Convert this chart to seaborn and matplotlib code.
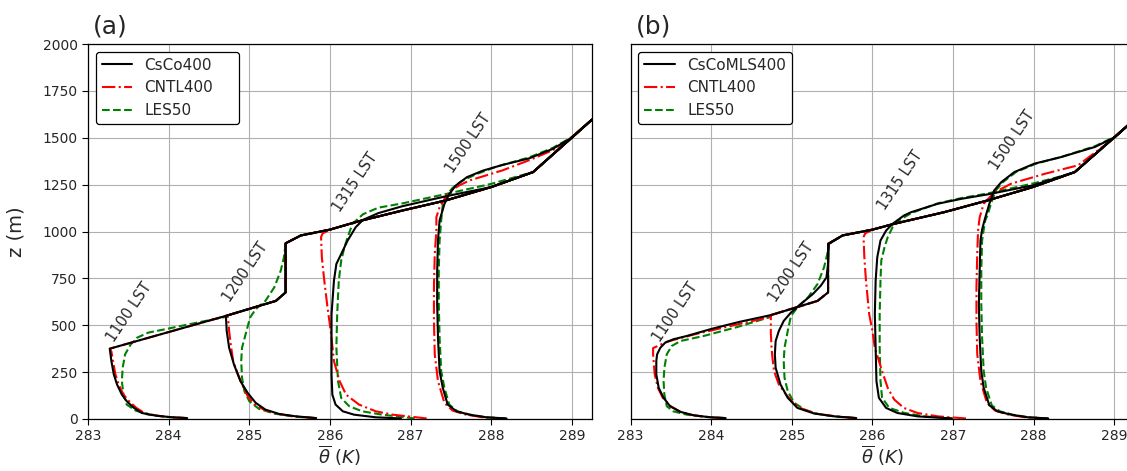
import numpy as np
import pandas as pd
import matplotlib
matplotlib.use("Agg")
import matplotlib.pyplot as plt
from matplotlib.lines import Line2D
import seaborn as sns

# ---------------------------------------------------------------------------
# Mean potential temperature profiles (theta in K, height z in m)
# ---------------------------------------------------------------------------
times = ["1100 LST", "1200 LST", "1315 LST", "1500 LST"]
models_a = ["CsCo400", "CNTL400", "LES50"]
models_b = ["CsCoMLS400", "CNTL400", "LES50"]

# Free-atmosphere part shared by the profiles above the mixed layer
fa_a_theta = [283.27, 284.71, 285.33, 285.45, 285.45, 285.64, 286.0, 286.36, 286.9, 287.44, 288.0, 288.52, 289.25]
fa_a_z = [375, 550, 630, 675, 937, 979, 1010, 1055, 1112, 1166, 1237, 1317, 1597]

fa_b_theta = [284.74, 285.0, 285.32, 285.45, 285.45, 285.63, 286.0, 286.27, 286.89, 287.43, 287.99, 288.51, 289.25]
fa_b_z = [554, 588, 630, 675, 934, 979, 1010, 1041, 1103, 1166, 1237, 1317, 1597]

# ---- panel (a) ----
a_1100_csco_theta = [284.23, 284.04, 283.84, 283.67, 283.57, 283.48, 283.42, 283.36, 283.32, 283.29, 283.27]
a_1100_csco_z = [5, 9, 18, 32, 59, 95, 130, 184, 238, 309, 375]
a_1100_cntl_theta = [284.22, 284.03, 283.85, 283.7, 283.6, 283.51, 283.44, 283.38, 283.34, 283.31, 283.29, 283.27]
a_1100_cntl_z = [5, 9, 18, 32, 59, 95, 130, 184, 238, 309, 360, 375]
a_1100_les_theta = [284.21, 283.96, 283.75, 283.59, 283.48, 283.44, 283.42, 283.43, 283.46, 283.53, 283.61, 283.75, 283.96, 284.25, 284.71]
a_1100_les_z = [5, 12, 23, 45, 77, 130, 202, 273, 345, 398, 434, 461, 479, 505, 545]

a_1200_csco_theta = [285.83, 285.58, 285.37, 285.2, 285.08, 284.98, 284.89, 284.81, 284.75, 284.72, 284.71]
a_1200_csco_z = [5, 14, 27, 50, 86, 139, 202, 291, 380, 470, 550]
a_1200_cntl_theta = [285.81, 285.56, 285.35, 285.18, 285.06, 284.98, 284.92, 284.86, 284.8, 284.77, 284.75, 284.74, 284.73]
a_1200_cntl_z = [5, 14, 27, 50, 80, 122, 175, 238, 309, 398, 470, 523, 552]
a_1200_les_theta = [285.81, 285.54, 285.31, 285.12, 285.0, 284.94, 284.91, 284.9, 284.91, 284.96, 285.01, 285.08, 285.2, 285.31, 285.39, 285.43, 285.45]
a_1200_les_z = [5, 14, 29, 54, 95, 148, 220, 309, 380, 461, 541, 586, 630, 702, 791, 863, 934]

a_1315_csco_theta = [286.88, 286.57, 286.3, 286.16, 286.07, 286.03, 286.02, 286.02, 286.02, 286.05, 286.08, 286.14, 286.22, 286.32, 286.41, 286.6, 286.9, 287.44, 288.0]
a_1315_csco_z = [3, 9, 23, 41, 77, 130, 238, 380, 559, 738, 827, 880, 952, 1023, 1062, 1098, 1135, 1188, 1237]
a_1315_cntl_theta = [287.2, 286.78, 286.57, 286.36, 286.2, 286.12, 286.05, 286.01, 285.97, 285.93, 285.9, 285.89, 285.91]
a_1315_cntl_z = [3, 23, 41, 77, 130, 202, 309, 470, 595, 738, 862, 970, 990]
a_1315_les_theta = [287.05, 286.65, 286.4, 286.24, 286.14, 286.1, 286.08, 286.09, 286.11, 286.14, 286.18, 286.22, 286.28, 286.41, 286.6, 286.9, 287.44, 288.0]
a_1315_les_z = [3, 23, 41, 68, 112, 202, 380, 559, 738, 845, 916, 970, 1041, 1092, 1127, 1150, 1200, 1254]

a_1500_csco_theta = [288.19, 287.94, 287.73, 287.57, 287.46, 287.4, 287.36, 287.34, 287.33, 287.33, 287.34, 287.36, 287.42, 287.48, 287.56, 287.7, 287.9, 288.14, 288.47, 288.76, 289.0, 289.25]
a_1500_csco_z = [3, 9, 23, 41, 77, 166, 255, 434, 613, 791, 952, 1059, 1147, 1200, 1245, 1290, 1325, 1355, 1390, 1440, 1500, 1597]
a_1500_cntl_theta = [288.17, 287.9, 287.69, 287.52, 287.42, 287.34, 287.3, 287.29, 287.29, 287.3, 287.32, 287.32, 287.36, 287.42, 287.5, 287.6, 287.73, 288.14, 288.5, 288.85, 289.25]
a_1500_cntl_z = [3, 9, 23, 45, 86, 202, 345, 523, 702, 880, 1005, 1076, 1130, 1173, 1218, 1245, 1272, 1326, 1385, 1450, 1597]
a_1500_les_theta = [288.18, 287.94, 287.74, 287.58, 287.48, 287.42, 287.38, 287.36, 287.35, 287.35, 287.36, 287.38, 287.4, 287.44, 287.52, 287.63, 287.81, 288.06, 288.47, 288.76, 289.0, 289.25]
a_1500_les_z = [3, 9, 23, 41, 77, 166, 255, 434, 613, 791, 952, 1059, 1147, 1191, 1232, 1268, 1305, 1345, 1395, 1445, 1503, 1597]

# ---- panel (b) ----
b_1100_csco_theta = [284.18, 283.99, 283.78, 283.62, 283.49, 283.41, 283.35, 283.32, 283.32, 283.33, 283.37, 283.43, 283.53, 283.7, 284.0, 284.35, 284.74]
b_1100_csco_z = [5, 9, 20, 38, 68, 113, 166, 238, 309, 345, 380, 407, 425, 443, 480, 518, 554]
b_1100_cntl_theta = [284.17, 283.98, 283.78, 283.62, 283.5, 283.4, 283.34, 283.3, 283.29, 283.28, 283.28, 283.45, 283.8, 284.3, 284.74]
b_1100_cntl_z = [5, 9, 20, 38, 68, 113, 166, 238, 291, 345, 378, 412, 452, 502, 545]
b_1100_les_theta = [284.16, 283.92, 283.7, 283.53, 283.45, 283.42, 283.41, 283.42, 283.45, 283.51, 283.62, 283.91, 284.32, 284.74]
b_1100_les_z = [5, 12, 23, 41, 68, 130, 202, 273, 345, 389, 416, 443, 490, 545]

b_1200_csco_theta = [285.8, 285.53, 285.28, 285.07, 284.95, 284.86, 284.8, 284.79, 284.8, 284.84, 284.9, 284.99, 285.11, 285.26, 285.36, 285.43, 285.45, 285.46]
b_1200_csco_z = [5, 14, 29, 59, 113, 184, 273, 345, 416, 470, 523, 568, 613, 666, 711, 755, 827, 934]
b_1200_cntl_theta = [285.8, 285.55, 285.3, 285.13, 285.02, 284.93, 284.84, 284.78, 284.76, 284.75, 284.74, 284.74]
b_1200_cntl_z = [5, 14, 29, 54, 86, 130, 184, 255, 327, 375, 460, 541]
b_1200_les_theta = [285.78, 285.52, 285.3, 285.16, 285.03, 284.95, 284.91, 284.9, 284.91, 284.95, 284.99, 285.07, 285.2, 285.32, 285.4, 285.44, 285.46]
b_1200_les_z = [5, 14, 29, 50, 86, 148, 220, 309, 380, 470, 550, 595, 648, 720, 809, 880, 934]

b_1315_csco_theta = [286.98, 286.56, 286.31, 286.17, 286.08, 286.05, 286.04, 286.03, 286.04, 286.06, 286.1, 286.17, 286.25, 286.39, 286.48, 286.81, 287.1, 287.43, 287.72, 287.99]
b_1315_csco_z = [3, 14, 32, 59, 113, 202, 380, 559, 738, 862, 952, 1005, 1041, 1085, 1103, 1148, 1174, 1198, 1223, 1246]
b_1315_cntl_theta = [287.16, 286.81, 286.56, 286.39, 286.27, 286.19, 286.12, 286.03, 286.0, 285.96, 285.92, 285.9, 285.89, 285.91]
b_1315_cntl_z = [3, 14, 32, 59, 104, 166, 255, 380, 470, 559, 738, 862, 970, 990]
b_1315_les_theta = [287.0, 286.65, 286.4, 286.21, 286.12, 286.1, 286.09, 286.09, 286.1, 286.11, 286.15, 286.19, 286.25, 286.33, 286.48, 286.81, 287.1, 287.43, 287.72, 287.99, 288.3]
b_1315_les_z = [3, 14, 32, 59, 113, 202, 380, 559, 738, 845, 916, 970, 1023, 1059, 1098, 1150, 1178, 1203, 1230, 1256, 1290]

b_1500_csco_theta = [288.18, 287.93, 287.72, 287.55, 287.45, 287.38, 287.35, 287.33, 287.32, 287.33, 287.34, 287.36, 287.39, 287.41, 287.45, 287.51, 287.6, 287.76, 288.01, 288.34, 288.76, 289.01, 289.25]
b_1500_csco_z = [3, 9, 23, 41, 73, 166, 255, 434, 613, 791, 952, 1010, 1060, 1090, 1148, 1219, 1264, 1317, 1362, 1397, 1451, 1504, 1597]
b_1500_cntl_theta = [288.17, 287.9, 287.69, 287.52, 287.42, 287.34, 287.3, 287.29, 287.29, 287.3, 287.31, 287.33, 287.38, 287.47, 287.56, 287.72, 288.14, 288.55, 288.88, 289.25]
b_1500_cntl_z = [3, 9, 23, 45, 86, 202, 345, 523, 702, 880, 1005, 1076, 1148, 1190, 1219, 1255, 1308, 1353, 1460, 1597]
b_1500_les_theta = [288.18, 287.94, 287.74, 287.58, 287.48, 287.41, 287.38, 287.36, 287.35, 287.35, 287.36, 287.38, 287.4, 287.43, 287.47, 287.53, 287.62, 287.78, 288.03, 288.36, 288.76, 289.01, 289.25]
b_1500_les_z = [3, 9, 23, 41, 73, 166, 255, 434, 613, 791, 952, 1010, 1060, 1090, 1148, 1219, 1264, 1317, 1362, 1400, 1455, 1506, 1597]

# Time labels written along the profiles
label_a_theta = [283.51, 284.95, 286.32, 287.72]
label_a_z = [571, 784, 1264, 1472]
label_b_theta = [283.55, 284.99, 286.34, 287.73]
label_b_z = [571, 784, 1275, 1488]

x_ticks = [283, 284, 285, 286, 287, 288, 289]
y_ticks = [0, 250, 500, 750, 1000, 1250, 1500, 1750, 2000]


def full_profile(theta, z, fa_theta, fa_z):
    """Boundary-layer part followed by the free atmosphere above it."""
    th = list(theta)
    zz = list(z)
    for t, h in zip(fa_theta, fa_z):
        if h > zz[-1]:
            th.append(t)
            zz.append(h)
    return th, zz


def build_frame(profiles, models, fa_theta, fa_z):
    rows = []
    for (time, model_idx), (theta, z) in profiles.items():
        th, zz = full_profile(theta, z, fa_theta, fa_z)
        for t, h in zip(th, zz):
            rows.append({"theta": t, "z": h, "model": models[model_idx], "time": time})
    return pd.DataFrame(rows)


profiles_a = {
    ("1100", 0): (a_1100_csco_theta, a_1100_csco_z),
    ("1100", 1): (a_1100_cntl_theta, a_1100_cntl_z),
    ("1100", 2): (a_1100_les_theta, a_1100_les_z),
    ("1200", 0): (a_1200_csco_theta, a_1200_csco_z),
    ("1200", 1): (a_1200_cntl_theta, a_1200_cntl_z),
    ("1200", 2): (a_1200_les_theta, a_1200_les_z),
    ("1315", 0): (a_1315_csco_theta, a_1315_csco_z),
    ("1315", 1): (a_1315_cntl_theta, a_1315_cntl_z),
    ("1315", 2): (a_1315_les_theta, a_1315_les_z),
    ("1500", 0): (a_1500_csco_theta, a_1500_csco_z),
    ("1500", 1): (a_1500_cntl_theta, a_1500_cntl_z),
    ("1500", 2): (a_1500_les_theta, a_1500_les_z),
}
profiles_b = {
    ("1100", 0): (b_1100_csco_theta, b_1100_csco_z),
    ("1100", 1): (b_1100_cntl_theta, b_1100_cntl_z),
    ("1100", 2): (b_1100_les_theta, b_1100_les_z),
    ("1200", 0): (b_1200_csco_theta, b_1200_csco_z),
    ("1200", 1): (b_1200_cntl_theta, b_1200_cntl_z),
    ("1200", 2): (b_1200_les_theta, b_1200_les_z),
    ("1315", 0): (b_1315_csco_theta, b_1315_csco_z),
    ("1315", 1): (b_1315_cntl_theta, b_1315_cntl_z),
    ("1315", 2): (b_1315_les_theta, b_1315_les_z),
    ("1500", 0): (b_1500_csco_theta, b_1500_csco_z),
    ("1500", 1): (b_1500_cntl_theta, b_1500_cntl_z),
    ("1500", 2): (b_1500_les_theta, b_1500_les_z),
}

df_a = build_frame(profiles_a, models_a, fa_a_theta, fa_a_z)
df_b = build_frame(profiles_b, models_b, fa_b_theta, fa_b_z)

sns.set_style("ticks")
plt.rcParams["font.family"] = ["DejaVu Sans"]

fig = plt.figure(figsize=(11.27, 4.71), dpi=100)
W, H = 1127.0, 471.0
ax_w, ax_h = 504.0 / W, 375.0 / H
ax_bot = (H - 419.0) / H
ax_a = fig.add_axes([88.0 / W, ax_bot, ax_w, ax_h])
ax_b = fig.add_axes([630.5 / W, ax_bot, ax_w, ax_h])

dash_styles = {"solid": "", "dashdot": (6.4, 1.6, 1.0, 1.6), "dashed": (3.7, 1.6)}


def draw_panel(ax, df, models, lab_theta, lab_z, tag, show_y, legend_width):
    palette = {models[0]: "black", models[1]: "red", models[2]: "green"}
    dashes = {models[0]: dash_styles["solid"], models[1]: dash_styles["dashdot"],
              models[2]: dash_styles["dashed"]}
    order = [models[2], models[1], models[0]]
    sns.lineplot(data=df, x="theta", y="z", hue="model", style="model",
                 units="time", estimator=None, sort=False,
                 hue_order=order, style_order=order,
                 palette=palette, dashes=dashes, linewidth=1.5,
                 legend=False, ax=ax)

    ax.set_xlim(283, 289.25)
    ax.set_ylim(0, 2000)
    ax.set_xticks(x_ticks)
    ax.set_yticks(y_ticks)
    ax.grid(True, color="#b0b0b0", linewidth=0.8)
    ax.set_axisbelow(True)
    for sp in ax.spines.values():
        sp.set_color("black")
        sp.set_linewidth(0.9)
    ax.tick_params(labelsize=10, color="black", length=4)
    ax.set_xlabel(r"$\overline{\theta}$ $(K)$", fontsize=13, labelpad=0)
    if show_y:
        ax.set_ylabel("z (m)", fontsize=14, labelpad=12)
    else:
        ax.set_ylabel("")
        ax.tick_params(axis="y", left=False, labelleft=False)

    for txt, t, h in zip(times, lab_theta, lab_z):
        ax.text(t, h, txt, rotation=56, rotation_mode="anchor",
                ha="center", va="center", fontsize=10.5)

    ax.text(0.01, 1.015, tag, transform=ax.transAxes, fontsize=18,
            ha="left", va="bottom")

    handles = [
        Line2D([], [], color="black", linewidth=1.5, linestyle="-"),
        Line2D([], [], color="red", linewidth=1.5, linestyle="-."),
        Line2D([], [], color="green", linewidth=1.5, linestyle="--"),
    ]
    kw = {}
    if legend_width is not None:
        kw = dict(bbox_to_anchor=(0.0, 0.0, legend_width, 1.0), mode="expand")
    leg = ax.legend(handles, models, loc="upper left", fontsize=11,
                    frameon=True, fancybox=True, framealpha=1.0, **kw)
    leg.get_frame().set_edgecolor("black")
    leg.get_frame().set_linewidth(0.9)


draw_panel(ax_a, df_a, models_a, label_a_theta, label_a_z, "(a)", True, 0.314)
draw_panel(ax_b, df_b, models_b, label_b_theta, label_b_z, "(b)", False, None)

fig.savefig("out.png", dpi=100)
